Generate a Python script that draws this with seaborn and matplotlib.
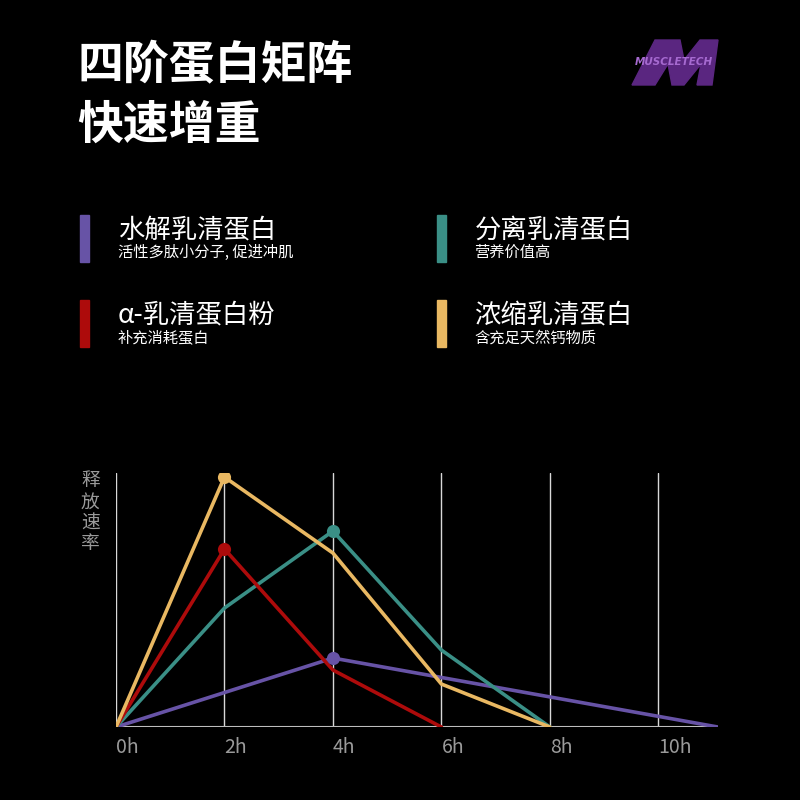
import pandas as pd
import matplotlib
matplotlib.use("Agg")
import matplotlib.pyplot as plt
import seaborn as sns

# series (release rate, arbitrary units)
names = ["水解乳清蛋白", "分离乳清蛋白", "α-乳清蛋白粉", "浓缩乳清蛋白"]
subtitles = ["活性多肽小分子, 促进冲肌", "营养价值高", "补充消耗蛋白", "含充足天然钙物质"]
colors = ["#6753a6", "#3a8f86", "#ad0b0b", "#e9b862"]

hydro_x = [0, 4, 11.1]
hydro_y = [0, 6.9, 0]
isolate_x = [0, 2, 4, 6, 8]
isolate_y = [0, 11.9, 19.6, 7.7, 0]
alpha_x = [0, 2, 4, 6]
alpha_y = [0, 17.8, 5.7, 0]
conc_x = [0, 2, 4, 6, 8]
conc_y = [0, 25.0, 17.4, 4.3, 0]

tick_hours = [0, 2, 4, 6, 8, 10]
tick_labels = ["0h", "2h", "4h", "6h", "8h", "10h"]

sns.set_style("dark")
plt.rcParams["font.family"] = ["Noto Sans CJK SC", "DejaVu Sans"]

frames = []
for name, xs, ys in zip(names,
                        [hydro_x, isolate_x, alpha_x, conc_x],
                        [hydro_y, isolate_y, alpha_y, conc_y]):
    frames.append(pd.DataFrame({"time": xs, "rate": ys, "protein": name}))
df = pd.concat(frames, ignore_index=True)

fig = plt.figure(figsize=(8, 8), dpi=100, facecolor="black")

# title
fig.text(0.097, 0.918, "四阶蛋白矩阵", color="white", fontsize=33,
         fontweight="bold", va="center", ha="left")
fig.text(0.097, 0.843, "快速增重", color="white", fontsize=33,
         fontweight="bold", va="center", ha="left")

# logo (approximate italic M shape with the brand name over it)
m_px = [(632, 85), (655, 40), (680, 40), (684, 60), (700, 40), (718, 40),
        (712, 85), (697, 85), (701, 64), (684, 85), (672, 85), (668, 64),
        (655, 85)]
m_fig = [(x / 800, 1 - y / 800) for x, y in m_px]
fig.patches.append(plt.Polygon(m_fig, closed=True, color="#5a2680",
                               transform=fig.transFigure, figure=fig))
fig.text(0.842, 0.922, "MUSCLETECH", color="#a66ad0", fontsize=7.5,
         fontweight="bold", style="italic", ha="center", va="center",
         family="DejaVu Sans")

# legend blocks
legend_pos = [(0.100, 0.6725), (0.546, 0.6725), (0.100, 0.566), (0.546, 0.566)]
for (lx, ly), name, sub, col in zip(legend_pos, names, subtitles, colors):
    fig.patches.append(plt.Rectangle((lx, ly), 0.011, 0.059, color=col,
                                     transform=fig.transFigure, figure=fig))
    fig.text(lx + 0.047, ly + 0.040, name, color="white", fontsize=19,
             va="center", ha="left")
    fig.text(lx + 0.047, ly + 0.0115, sub, color="white", fontsize=11,
             va="center", ha="left")

ax = fig.add_axes([0.145, 0.0912, 0.7525, 0.3175])
ax.set_facecolor("black")

for h in tick_hours:
    ax.axvline(h, color="#d8d8d8", lw=1.0, zorder=1)

sns.lineplot(data=df, x="time", y="rate", hue="protein", hue_order=names,
             palette=colors, sort=False, estimator=None, lw=2.6,
             legend=False, ax=ax, zorder=3)

# dot on each curve's peak
for name, col in zip(names, colors):
    sub = df[df["protein"] == name]
    peak = sub.loc[sub["rate"].idxmax()]
    ax.scatter([peak["time"]], [peak["rate"]], s=90, color=col, zorder=4,
               linewidths=0)

ax.axhline(0, color="#bdbdbd", lw=1.5, zorder=2)
ax.set_xlim(0, 11.1)
ax.set_ylim(0, 25.4)
ax.set_xticks(tick_hours)
ax.set_xticklabels(tick_labels, color="#9a9a9a", fontsize=14)
ax.set_yticks([])
ax.set_xlabel("")
ax.set_ylabel("")
ax.tick_params(axis="x", length=0, pad=7)
ax.grid(False)
for s in ax.spines.values():
    s.set_visible(False)
for lbl in ax.get_xticklabels():
    lbl.set_horizontalalignment("left")

fig.text(0.113, 0.412, "释\n放\n速\n率", color="#9a9a9a", fontsize=13.5,
         ha="center", va="top", linespacing=1.0)

fig.savefig("out.png", dpi=100, facecolor="black")
